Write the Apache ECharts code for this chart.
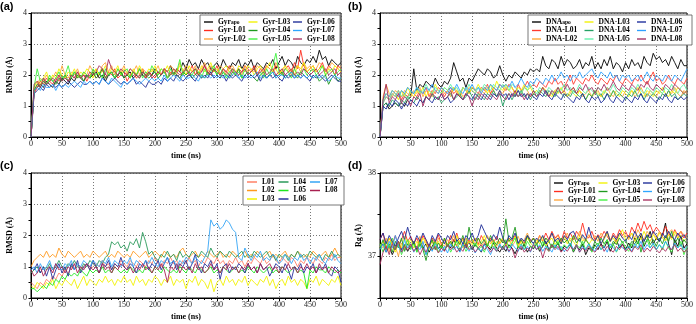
<!DOCTYPE html>
<html>
<head>
<meta charset="utf-8">
<script src="https://cdn.jsdelivr.net/npm/echarts@6/dist/echarts.min.js"></script>
<style>
  html, body { margin: 0; padding: 0; background: #fff; }
  #chart { width: 696px; height: 324px; }
</style>
</head>
<body>
<div id="chart"></div>
<script>
// sampling times (ns), one value every 5 ns from 0 to 500
const TIMES = Array.from({ length: 101 }, (_, i) => i * 5);

// ---------- (a) protein RMSD (Å) ----------
const GYR_NAMES = ['Gyr_apo', 'Gyr-L01', 'Gyr-L02', 'Gyr-L03', 'Gyr-L04', 'Gyr-L05', 'Gyr-L06', 'Gyr-L07', 'Gyr-L08'];
const gyrApo = [0,
  1.5,1.6,1.7,1.6,1.8,1.7,1.6,1.8,1.7,1.9,
  1.8,1.7,1.9,1.8,2.0,1.9,1.8,2.0,1.9,2.0,
  2.1,1.9,2.0,1.8,2.0,2.1,1.9,2.0,2.1,1.9,
  2.0,2.1,1.9,2.0,2.2,2.0,1.9,2.1,2.0,2.2,
  2.1,2.0,2.2,2.1,2.3,2.0,2.2,2.1,2.4,2.2,
  2.5,2.3,2.4,2.2,2.5,2.3,2.4,2.2,2.3,2.4,
  2.2,2.5,2.3,2.2,2.4,2.3,2.5,2.2,2.4,2.3,
  2.5,2.2,2.4,2.3,2.2,2.4,2.3,2.5,2.2,2.4,
  2.6,2.3,2.5,2.4,2.2,2.6,2.4,2.3,2.5,2.4,
  2.6,2.4,2.8,2.5,2.6,2.3,2.5,2.4,2.3,2.4];
const gyrL01 = [0,
  1.4,1.6,1.8,1.7,1.9,1.8,1.7,1.9,1.8,2.0,
  1.9,1.8,2.0,1.9,2.1,1.9,2.0,1.8,2.0,2.1,
  1.9,2.0,2.2,1.9,2.1,2.0,2.2,1.9,2.0,2.1,
  1.8,2.0,2.1,1.9,2.0,2.2,1.9,2.1,2.0,1.9,
  2.1,2.0,2.2,1.9,2.1,2.0,2.2,2.1,2.0,2.2,
  2.1,2.3,2.0,2.2,2.1,2.3,2.0,2.2,2.1,2.3,
  2.0,2.2,2.1,2.3,2.1,2.0,2.2,2.1,2.3,2.2,
  2.1,2.3,2.0,2.2,2.1,2.3,2.2,2.1,2.3,2.2,
  2.0,2.2,2.3,2.1,2.4,2.2,2.8,2.3,2.1,2.2,
  2.3,2.1,2.2,2.4,2.1,2.3,2.2,2.0,2.3,2.2];
const gyrL02 = [0,
  1.5,1.7,1.9,1.8,2.0,1.8,1.9,2.1,1.9,2.3,
  2.0,1.9,2.1,2.0,2.2,1.9,2.1,2.0,2.3,2.1,
  2.2,2.0,2.3,2.4,2.1,2.3,2.0,2.2,2.1,2.3,
  2.0,2.2,2.1,2.3,2.0,2.2,2.1,2.0,2.2,2.1,
  2.3,2.0,2.2,2.1,2.3,2.2,2.0,2.4,2.1,2.3,
  2.2,2.1,2.3,2.0,2.2,2.4,2.1,2.3,2.2,2.1,
  2.3,2.2,2.0,2.2,2.3,2.1,2.2,2.0,2.3,2.1,
  2.2,2.1,2.3,2.2,2.0,2.3,2.2,2.1,2.4,2.2,
  2.1,2.3,2.2,2.0,2.2,2.3,2.1,2.4,2.2,2.3,
  2.1,2.2,2.4,2.3,2.1,2.2,2.4,2.3,2.2,2.3];
const gyrL03 = [0,
  1.6,1.8,1.7,1.9,2.1,1.8,2.0,1.9,2.2,2.0,
  1.9,2.1,2.0,2.2,1.9,2.1,2.0,2.2,2.1,1.9,
  2.2,2.0,2.1,2.3,2.0,2.2,2.1,2.3,2.0,2.2,
  2.1,1.9,2.2,2.0,2.3,2.1,2.0,2.2,2.1,2.3,
  2.0,2.2,2.1,2.3,2.0,2.2,2.1,2.3,2.2,2.0,
  2.3,2.1,2.2,2.0,2.3,2.1,2.2,2.4,2.1,2.2,
  2.0,2.2,2.3,2.1,2.2,2.0,2.3,2.2,2.1,2.3,
  2.2,2.0,2.2,2.3,2.1,2.2,2.4,2.1,2.2,2.0,
  2.2,2.3,2.1,2.2,2.0,2.3,2.2,2.4,2.1,2.2,
  2.3,2.1,2.2,2.3,2.0,2.2,2.1,2.3,2.2,2.1];
const gyrL04 = [0,
  1.5,1.7,1.6,1.8,1.7,1.9,1.8,1.7,1.9,1.8,
  2.0,1.8,1.9,2.1,1.9,2.0,1.8,2.0,1.9,2.1,
  1.9,2.0,2.2,1.9,2.0,2.1,1.9,2.0,2.1,1.9,
  2.0,1.9,2.1,2.0,1.9,2.1,2.0,1.9,2.0,2.1,
  1.9,2.0,2.1,1.9,2.0,2.1,2.0,1.9,2.1,2.0,
  2.1,1.9,2.0,2.1,2.0,1.9,2.1,2.0,2.2,2.0,
  1.9,2.1,2.0,1.9,2.1,2.0,2.2,1.9,2.0,2.1,
  2.0,1.9,1.8,2.0,2.1,1.9,2.0,2.1,1.9,2.0,
  2.1,1.9,2.0,2.1,2.0,1.9,2.1,2.0,1.9,2.0,
  1.9,2.0,1.8,1.9,2.0,1.7,1.9,2.0,1.8,1.9];
const gyrL05 = [0,
  1.6,2.2,1.8,1.9,1.7,2.0,1.8,1.9,2.1,1.9,
  2.0,2.3,1.9,2.1,2.0,1.9,2.1,2.0,1.9,2.2,
  2.0,2.1,1.9,2.2,2.0,2.1,1.9,2.2,2.0,2.1,
  2.2,1.9,2.1,2.0,2.2,1.9,2.1,2.0,2.3,2.1,
  2.0,2.2,2.1,1.9,2.2,2.0,2.1,2.5,2.0,2.2,
  2.1,2.0,2.2,2.1,1.9,2.2,2.0,2.1,2.3,2.0,
  2.2,2.1,1.9,2.1,2.2,2.0,2.1,1.9,2.2,2.0,
  2.1,2.2,2.0,2.1,1.9,2.2,2.0,2.3,2.7,2.1,
  2.0,2.2,2.1,1.9,2.2,2.0,2.1,2.2,2.0,2.1,
  2.2,2.0,2.1,2.3,2.0,2.1,2.2,2.0,2.1,2.2];
const gyrL06 = [0,
  1.4,1.5,1.6,1.5,1.7,1.6,1.7,1.6,1.7,1.6,
  1.7,1.8,1.7,1.6,1.7,1.8,1.7,1.7,1.8,1.7,
  1.8,1.7,1.9,1.8,1.7,1.8,1.9,1.8,1.7,1.8,
  1.7,1.8,1.9,1.7,1.8,1.7,1.6,1.8,1.7,1.7,
  1.8,1.7,1.9,1.8,1.9,1.8,2.0,1.9,1.8,1.9,
  2.0,1.9,1.8,2.0,1.9,2.0,1.9,2.1,1.9,2.0,
  1.9,2.0,1.8,2.0,1.9,2.0,1.9,1.8,2.0,1.9,
  2.0,1.9,2.0,1.8,2.0,1.9,2.0,1.9,2.0,1.9,
  1.8,2.0,1.9,2.0,1.9,2.0,1.9,2.0,1.9,1.8,
  2.0,1.9,2.0,1.9,1.8,1.9,2.0,1.9,1.8,1.8];
const gyrL07 = [0,
  1.5,1.6,1.5,1.7,1.6,1.6,1.7,1.5,1.7,1.6,
  1.7,1.6,1.7,1.8,1.7,1.6,1.8,1.7,1.8,1.7,
  1.8,1.7,1.9,1.8,1.7,1.9,1.8,1.7,1.6,1.8,
  1.7,1.8,1.9,1.8,1.7,1.8,1.9,1.8,1.9,1.8,
  1.9,1.8,2.0,1.8,1.9,2.0,1.9,1.8,2.0,1.9,
  1.9,2.0,1.9,1.8,2.0,1.9,2.0,1.9,2.0,1.9,
  2.0,1.9,2.0,1.9,2.0,2.1,1.9,2.0,1.9,2.0,
  1.9,2.0,2.1,1.9,2.0,1.9,2.0,2.1,1.9,2.0,
  2.0,1.9,2.0,2.1,1.9,2.0,1.9,2.0,1.9,2.0,
  1.9,2.0,1.9,2.0,1.9,1.8,1.9,2.0,1.9,1.9];
const gyrL08 = [0,
  1.7,1.8,1.6,1.9,1.7,1.8,1.9,1.8,2.0,1.8,
  1.9,1.8,2.0,1.9,2.1,1.9,2.0,1.9,2.1,2.0,
  2.1,2.3,2.2,2.0,2.5,2.2,2.1,2.0,2.2,2.1,
  2.0,2.2,2.1,2.0,1.9,2.1,2.0,2.1,1.9,2.0,
  2.1,2.0,2.2,2.1,2.0,2.2,2.1,2.0,2.1,2.2,
  2.0,2.1,2.2,2.0,2.1,2.3,2.1,2.0,2.2,2.1,
  2.0,2.2,2.1,2.0,2.2,2.1,2.0,2.1,2.2,2.0,
  2.1,2.2,2.0,2.1,2.2,2.0,2.1,2.2,2.0,2.1,
  2.2,2.0,2.1,2.2,2.0,2.1,2.0,2.2,2.1,2.0,
  2.1,2.2,2.0,2.1,2.2,2.0,2.1,2.2,2.0,2.1];

// ---------- (b) DNA RMSD (Å) ----------
const DNA_NAMES = ['DNA_apo', 'DNA-L01', 'DNA-L02', 'DNA-L03', 'DNA-L04', 'DNA-L05', 'DNA-L06', 'DNA-L07', 'DNA-L08'];
const dnaApo = [0,
  1.0,1.1,0.9,1.0,1.1,1.0,1.1,1.0,1.2,1.3,
  2.2,1.5,1.7,1.6,1.8,1.7,1.6,1.9,1.7,1.6,
  1.8,1.7,1.9,2.4,2.1,1.8,1.9,1.6,1.9,1.8,
  2.0,2.2,2.1,2.0,2.2,2.1,1.9,2.0,2.3,2.0,
  1.8,2.0,1.9,2.1,2.0,1.9,2.1,2.0,2.2,2.1,
  2.2,2.1,2.6,2.3,2.2,2.5,2.4,2.2,2.6,2.3,
  2.5,2.4,2.2,2.3,2.5,2.2,2.4,2.3,2.6,2.2,
  2.4,2.2,2.5,2.3,2.6,2.2,2.4,2.3,2.1,2.4,
  2.2,2.5,2.3,2.4,2.2,2.6,2.4,2.3,2.7,2.5,
  2.6,2.4,2.5,2.3,2.6,2.4,2.2,2.5,2.3,2.3];
const dnaL01 = [0,
  1.1,1.3,1.2,1.4,1.3,1.5,1.2,1.4,1.3,1.5,
  1.4,1.3,1.5,1.4,1.6,1.3,1.5,1.4,1.6,1.5,
  1.3,1.5,1.6,1.4,1.5,1.3,1.6,1.5,1.4,1.6,
  1.5,1.4,1.6,1.5,1.7,1.4,1.6,1.5,1.7,1.6,
  1.5,1.7,1.6,1.4,1.7,1.5,1.6,1.8,1.6,1.7,
  1.6,1.8,1.7,1.6,1.8,1.7,1.9,1.7,1.8,1.6,
  1.8,2.0,1.7,1.9,1.8,1.7,1.9,1.8,2.0,1.8,
  1.7,1.9,1.8,1.7,1.9,1.8,2.0,1.8,1.7,1.9,
  1.8,1.7,1.9,1.8,2.0,1.8,1.7,1.9,2.1,1.8,
  1.9,1.7,1.8,2.0,1.8,1.7,1.9,1.8,1.7,1.9];
const dnaL02 = [0,
  1.3,1.7,1.4,1.3,1.5,1.4,1.3,1.5,1.4,1.3,
  1.5,1.4,1.6,1.3,1.5,1.4,1.3,1.5,1.4,1.6,
  1.4,1.5,1.3,1.6,1.4,1.5,1.3,1.4,1.6,1.5,
  1.4,1.3,1.5,1.4,1.6,1.4,1.5,1.3,1.5,1.4,
  1.6,1.5,1.4,1.3,1.5,1.4,1.6,1.5,1.3,1.4,
  1.5,1.4,1.6,1.5,1.3,1.4,1.5,1.6,1.4,1.5,
  1.3,1.4,1.6,1.4,1.5,1.3,1.4,1.5,1.3,1.4,
  1.5,1.3,1.4,1.6,1.4,1.3,1.5,1.4,1.3,1.5,
  1.4,1.5,1.3,1.4,1.6,1.4,1.3,1.5,1.4,1.3,
  1.5,1.4,1.3,1.5,1.4,1.6,1.4,1.3,1.5,1.4];
const dnaL03 = [0,
  1.2,1.4,1.3,1.5,1.4,1.2,1.5,1.3,1.6,1.4,
  1.3,1.5,1.4,1.6,1.3,1.5,1.4,1.7,1.5,1.4,
  1.6,1.5,1.4,1.6,1.5,1.3,1.6,1.5,1.4,1.6,
  1.5,1.7,1.5,1.6,1.4,1.7,1.5,1.8,1.6,1.5,
  1.7,1.5,1.6,1.4,1.6,1.5,1.7,1.5,1.6,1.4,
  1.5,1.4,1.6,1.5,1.4,1.3,1.5,1.4,1.6,1.4,
  1.3,1.5,1.4,1.3,1.5,1.4,1.2,1.4,1.3,1.5,
  1.4,1.3,1.5,1.4,1.3,1.5,1.4,1.3,1.5,1.4,
  1.3,1.5,1.4,1.6,1.4,1.3,1.5,1.4,1.3,1.5,
  1.4,1.6,1.4,1.3,1.5,1.4,1.6,1.5,1.4,1.5];
const dnaL04 = [0,
  1.0,1.1,1.0,1.2,1.1,1.0,1.2,1.1,1.3,1.2,
  1.1,1.3,1.2,1.1,1.3,1.2,1.4,1.2,1.3,1.1,
  1.2,1.3,1.4,1.2,1.3,1.4,1.2,1.3,1.5,1.3,
  1.2,1.4,1.3,1.2,1.4,1.3,1.5,1.3,1.4,1.0,
  1.3,1.4,1.2,1.4,1.3,1.5,1.3,1.4,1.2,1.4,
  1.3,1.5,1.4,1.3,1.5,1.4,1.3,1.5,1.4,1.3,
  1.4,1.3,1.5,1.4,1.3,1.4,1.2,1.4,1.3,1.5,
  1.3,1.4,1.2,1.4,1.3,1.5,1.3,1.4,1.3,1.2,
  1.4,1.3,1.5,1.3,1.4,1.2,1.4,1.3,1.4,1.3,
  1.2,1.4,1.3,1.5,1.3,1.4,1.2,1.3,1.4,1.3];
const dnaL05 = [0,
  1.1,1.3,1.2,1.4,1.3,1.5,1.3,1.4,1.2,1.5,
  1.4,1.6,1.4,1.5,1.7,1.5,1.4,1.6,1.5,1.4,
  1.6,1.5,1.7,1.5,1.6,1.4,1.6,1.5,1.7,1.5,
  1.4,1.6,1.5,1.7,1.6,1.5,1.7,1.6,1.5,1.7,
  1.6,1.5,1.7,1.6,1.5,1.4,1.6,1.5,1.7,1.5,
  1.4,1.6,1.5,1.4,1.6,1.5,1.4,1.6,1.5,1.7,
  1.5,1.6,1.4,1.5,1.7,1.5,1.4,1.6,1.5,1.4,
  1.6,1.5,1.4,1.6,1.5,1.7,1.5,1.4,1.6,1.5,
  1.4,1.6,1.5,1.7,1.5,1.4,1.6,1.5,1.4,1.6,
  1.5,1.4,1.6,1.5,1.7,1.5,1.4,1.6,1.7,1.5];
const dnaL06 = [0,
  1.0,0.9,1.1,1.0,1.2,1.1,0.9,1.1,1.0,1.2,
  1.1,1.0,1.2,1.1,1.3,1.2,1.1,1.3,1.2,1.4,
  1.2,1.3,1.1,1.2,1.4,1.3,1.2,1.4,1.3,1.2,
  1.4,1.3,1.2,1.4,1.3,1.2,1.4,1.3,1.5,1.3,
  1.4,1.2,1.4,1.3,1.5,1.3,1.4,1.2,1.4,1.3,
  1.2,1.4,1.3,1.5,1.3,1.2,1.4,1.3,1.2,1.4,
  1.3,1.2,1.1,1.3,1.2,1.4,1.2,1.1,1.3,1.2,
  1.3,1.1,1.2,1.4,1.2,1.1,1.3,1.2,1.1,1.3,
  1.2,1.1,1.3,1.2,1.4,1.2,1.1,1.3,1.2,1.1,
  1.3,1.2,1.4,1.2,1.1,1.3,1.2,1.3,1.2,1.3];
const dnaL07 = [0,
  1.2,1.4,1.3,1.5,1.4,1.3,1.5,1.4,1.6,1.5,
  1.4,1.6,1.5,1.4,1.6,1.5,1.7,1.5,1.4,1.6,
  1.5,1.4,1.6,1.5,1.7,1.5,1.4,1.6,1.5,1.7,
  1.5,1.6,1.4,1.6,1.5,1.7,1.6,1.5,1.7,1.6,
  1.7,1.6,1.8,1.6,1.7,1.9,1.7,1.6,1.8,1.7,
  1.9,1.8,1.7,1.9,1.8,2.0,1.8,1.9,2.1,1.9,
  2.0,1.8,2.0,1.9,2.1,1.9,2.0,2.1,2.2,2.0,
  1.9,2.1,2.0,1.9,2.1,1.9,2.0,1.8,2.0,1.9,
  2.0,1.8,1.9,2.0,1.8,1.9,2.1,1.9,1.8,2.0,
  1.9,1.8,2.0,1.9,1.8,2.0,1.9,1.8,2.0,2.2];
const dnaL08 = [0,
  1.2,1.7,1.1,1.3,1.2,1.4,1.1,1.3,1.2,1.0,
  1.3,1.2,1.4,1.0,1.3,1.2,1.4,1.3,1.2,1.4,
  1.2,1.3,1.5,1.2,1.4,1.3,1.2,1.4,1.3,1.0,
  1.3,1.2,1.4,1.3,1.2,1.4,1.3,1.2,1.4,1.3,
  1.2,1.4,1.3,1.5,1.3,1.4,1.2,1.4,1.3,1.5,
  1.3,1.4,1.6,1.4,1.3,1.5,1.4,1.6,1.4,1.5,
  1.7,1.5,1.6,1.4,1.6,1.5,1.7,1.5,1.6,1.4,
  1.6,1.5,1.7,1.5,1.6,1.8,1.6,1.5,1.7,1.6,
  1.5,1.7,1.6,1.5,1.7,1.6,1.8,1.6,1.5,1.7,
  1.6,1.5,1.7,1.6,1.5,1.7,1.6,1.5,1.4,1.5];

// ---------- (c) ligand RMSD (Å) ----------
const LIG_NAMES = ['L01', 'L02', 'L03', 'L04', 'L05', 'L06', 'L07', 'L08'];
const ligL01 = [0.5,
  0.4,0.3,0.5,0.4,0.6,0.5,0.7,0.6,0.8,0.7,
  0.9,0.8,1.0,0.9,1.1,0.9,1.0,1.1,0.9,1.0,
  1.1,1.0,1.2,1.0,1.1,0.9,1.1,1.0,1.2,1.1,
  1.0,1.2,1.1,1.0,1.2,1.1,1.0,1.2,1.1,1.3,
  1.1,1.0,1.2,1.1,1.3,1.1,1.2,1.0,1.2,1.1,
  1.3,1.1,1.2,1.0,1.2,1.1,1.3,1.2,1.1,1.3,
  1.1,1.2,1.0,1.2,1.1,1.3,1.1,1.2,1.0,1.2,
  1.1,1.3,1.2,1.1,1.3,1.1,1.2,1.4,1.2,1.1,
  1.3,1.2,1.1,1.3,1.2,1.0,1.2,1.1,1.3,1.2,
  1.1,1.3,1.2,1.1,1.3,1.2,1.4,1.2,1.3,1.3];
const ligL02 = [1.0,
  1.2,1.3,1.4,1.3,1.5,1.3,1.4,1.3,1.6,1.4,
  1.3,1.5,1.4,1.3,1.4,1.5,1.3,1.4,1.3,1.5,
  1.4,1.3,1.4,1.5,1.3,1.4,1.3,1.5,1.4,1.3,
  1.4,1.3,1.5,1.4,1.3,1.4,1.5,1.3,1.4,1.5,
  1.4,1.3,1.5,1.4,1.3,1.4,1.3,1.5,1.6,1.4,
  1.3,1.4,1.5,1.3,1.4,1.3,1.5,1.4,1.3,1.4,
  1.5,1.3,1.4,1.3,1.5,1.4,1.3,1.4,1.5,1.3,
  1.4,1.3,1.5,1.4,1.3,1.4,1.5,1.3,1.4,1.3,
  1.4,1.5,1.3,1.4,1.3,1.5,1.4,1.3,1.4,1.3,
  1.5,1.4,1.3,1.4,1.5,1.3,1.4,1.6,1.4,1.3];
const ligL03 = [0.4,
  0.3,0.5,0.4,0.3,0.5,0.4,0.6,0.3,0.5,0.4,
  0.6,0.5,0.4,0.6,0.3,0.5,0.7,0.4,0.6,0.5,
  0.4,0.6,0.5,0.7,0.5,0.6,0.4,0.6,0.5,0.7,
  0.5,0.6,0.4,0.7,0.5,0.6,0.4,0.6,0.5,0.7,
  0.6,0.4,0.6,0.5,0.7,0.4,0.6,0.5,0.6,0.3,
  0.6,0.5,0.7,0.4,0.6,0.5,0.3,0.6,0.2,0.5,
  0.6,0.4,0.7,0.5,0.6,0.4,0.6,0.5,0.7,0.4,
  0.6,0.5,0.4,0.6,0.5,0.7,0.4,0.6,0.3,0.5,
  0.6,0.4,0.7,0.5,0.6,0.4,0.6,0.5,0.3,0.6,
  0.5,0.7,0.4,0.6,0.5,0.4,0.6,0.5,0.7,0.4];
const ligL04 = [0.8,
  0.9,1.0,0.8,1.0,0.9,1.1,0.9,1.0,1.2,1.0,
  0.9,1.1,1.0,1.2,1.0,0.9,1.1,1.0,1.2,1.1,
  1.0,1.2,1.1,1.3,1.4,1.8,1.7,1.8,1.6,1.7,
  1.5,1.8,1.7,1.9,1.6,2.1,1.8,1.4,1.5,1.3,
  1.2,1.4,1.3,1.5,1.3,1.4,1.2,1.5,1.3,1.4,
  1.3,1.5,1.4,1.3,1.5,1.4,1.3,1.6,1.4,1.3,
  1.5,1.4,1.3,1.5,1.4,1.3,1.4,1.5,1.3,1.4,
  1.3,1.5,1.4,1.3,1.4,1.5,1.3,1.4,1.2,1.4,
  1.3,1.4,1.2,1.4,1.3,1.5,1.3,1.4,1.3,1.5,
  1.4,1.3,1.4,1.2,1.4,1.3,1.5,1.3,1.4,1.3];
const ligL05 = [0.3,
  0.3,0.2,0.3,0.4,0.3,0.5,0.4,0.6,0.5,0.7,
  0.6,0.8,0.7,0.8,0.7,0.9,0.8,0.7,0.9,0.8,
  0.9,0.8,1.0,0.8,0.9,0.8,1.0,0.9,0.8,0.9,
  0.8,1.0,0.9,0.8,0.9,0.8,1.0,0.9,0.8,1.0,
  0.9,0.8,1.0,0.9,0.8,0.9,0.8,1.0,0.9,0.8,
  1.0,0.9,0.8,1.0,0.9,0.8,0.9,1.0,0.8,0.9,
  0.8,1.0,0.9,0.8,0.9,1.0,0.8,0.9,0.8,1.0,
  0.9,0.8,1.0,0.9,0.8,0.9,1.0,0.8,0.9,0.8,
  1.0,0.9,0.8,0.9,1.0,0.8,0.9,0.8,0.3,0.9,
  0.8,1.0,0.9,0.9,0.8,1.0,0.9,0.8,0.9,0.8];
const ligL06 = [1.0,
  0.9,1.1,0.8,1.0,0.7,1.0,0.6,0.9,1.1,0.8,
  1.0,0.7,1.1,0.9,1.2,0.8,1.0,1.1,0.9,1.2,
  1.0,0.8,1.1,1.0,1.2,0.9,1.1,1.0,1.3,1.0,
  0.9,1.1,1.0,0.8,1.1,1.0,1.2,0.9,1.1,1.0,
  1.2,0.9,1.1,1.3,1.0,1.2,0.9,1.1,1.0,1.2,
  0.9,1.1,1.4,1.0,0.8,1.1,1.0,1.2,0.9,1.1,
  0.6,1.0,1.1,0.8,1.0,0.9,1.1,1.0,0.8,1.1,
  0.9,1.0,0.8,1.1,0.9,1.0,0.7,0.9,1.1,1.0,
  0.8,1.1,0.9,0.6,1.0,0.9,1.1,0.8,1.0,0.9,
  1.1,0.8,1.0,0.9,1.1,0.8,0.7,1.0,0.9,0.5];
const ligL07 = [0.9,
  1.0,0.8,1.1,0.9,1.0,1.2,0.9,1.1,1.0,0.9,
  1.1,1.0,1.2,0.9,1.1,1.0,1.2,1.1,1.0,1.2,
  1.1,1.0,1.2,1.1,1.3,1.0,1.2,1.1,1.0,1.2,
  1.1,1.3,1.0,1.2,1.1,1.0,1.2,1.1,1.3,1.1,
  1.0,1.2,1.1,1.3,1.1,1.2,1.0,1.2,1.1,1.3,
  1.2,1.1,1.3,1.2,1.1,1.3,1.5,2.5,2.3,2.4,
  2.2,2.3,2.5,2.4,2.2,2.1,1.3,1.2,1.6,1.4,
  1.2,1.4,1.3,1.5,1.2,1.3,1.2,1.4,1.3,1.1,
  1.2,1.4,1.3,1.1,1.3,1.2,1.4,1.2,1.3,1.1,
  1.3,1.2,1.4,1.2,1.1,1.3,1.2,1.4,1.2,1.1];
const ligL08 = [0.9,
  0.7,0.8,1.0,0.7,0.9,1.0,0.8,1.1,0.9,1.0,
  0.8,1.0,0.9,1.1,0.8,1.0,0.9,1.1,1.0,0.9,
  1.0,0.8,1.1,0.9,1.0,0.8,1.0,0.9,1.1,1.0,
  0.9,1.0,0.8,1.0,0.9,1.1,0.9,1.0,0.8,1.0,
  0.9,1.1,0.9,0.5,1.0,0.9,1.1,0.8,1.0,0.9,
  1.0,0.8,1.1,0.9,1.0,0.8,0.9,1.1,0.9,1.0,
  0.8,1.0,0.9,1.1,0.9,1.0,0.8,1.0,0.9,1.1,
  0.9,1.0,0.8,1.1,0.9,1.0,1.1,0.9,1.0,0.8,
  1.0,0.9,1.1,0.9,1.0,0.8,1.0,0.9,1.1,0.9,
  1.0,0.8,1.1,0.9,1.0,0.8,1.0,0.9,0.8,0.9];

// ---------- (d) radius of gyration (Å) ----------
const rgApo = [37.10,
  37.15,37.05,37.12,37.02,37.10,37.18,37.08,37.14,37.06,37.12,
  37.16,37.08,37.20,37.10,37.15,37.05,37.12,37.18,37.09,37.14,
  37.07,37.15,37.10,37.20,37.12,37.06,37.16,37.10,37.18,37.08,
  37.14,37.10,37.05,37.15,37.12,37.08,37.16,37.10,37.05,37.12,
  37.06,37.14,37.10,37.03,37.12,37.08,37.15,37.05,37.12,37.09,
  37.15,37.06,37.12,37.18,37.08,37.14,37.10,37.16,37.06,37.12,
  37.10,37.15,37.05,37.12,37.08,37.15,37.02,37.10,37.06,37.14,
  37.08,37.15,37.10,37.18,37.06,37.14,37.20,37.10,37.15,37.08,
  37.16,37.10,37.22,37.15,37.25,37.12,37.20,37.30,37.15,37.22,
  37.18,37.25,37.40,37.15,37.02,37.20,37.12,37.25,37.10,37.15];
const rgL01 = [37.20,
  37.28,37.10,37.22,37.15,37.25,37.12,37.20,37.30,37.18,37.24,
  37.15,37.22,37.12,37.25,37.18,37.10,37.22,37.16,37.26,37.14,
  37.20,37.12,37.25,37.18,37.28,37.15,37.22,37.12,37.20,37.16,
  37.22,37.14,37.25,37.18,37.12,37.22,37.16,37.24,37.15,37.20,
  37.14,37.22,37.18,37.25,37.12,37.20,37.16,37.24,37.18,37.22,
  37.15,37.25,37.18,37.28,37.20,37.30,37.22,37.26,37.18,37.30,
  37.22,37.28,37.20,37.30,37.24,37.40,37.25,37.22,37.30,37.20,
  37.26,37.22,37.30,37.24,37.18,37.28,37.22,37.32,37.25,37.30,
  37.22,37.35,37.28,37.40,37.30,37.42,37.32,37.38,37.28,37.35,
  37.30,37.25,37.36,37.28,37.22,37.32,37.25,37.30,37.22,37.28];
const rgL02 = [37.15,
  37.10,37.22,37.05,37.18,37.12,37.00,37.16,37.08,37.20,37.12,
  37.18,37.10,37.24,37.14,37.20,37.12,37.18,37.08,37.22,37.15,
  37.12,37.20,37.15,37.25,37.12,37.18,37.10,37.22,37.16,37.20,
  37.15,37.22,37.12,37.18,37.25,37.15,37.20,37.12,37.18,37.22,
  37.16,37.20,37.12,37.18,37.24,37.15,37.20,37.28,37.18,37.22,
  37.15,37.25,37.18,37.22,37.16,37.28,37.20,37.25,37.15,37.22,
  37.28,37.18,37.25,37.20,37.30,37.22,37.18,37.26,37.20,37.25,
  37.18,37.28,37.22,37.30,37.20,37.25,37.18,37.28,37.22,37.26,
  37.20,37.28,37.22,37.32,37.25,37.20,37.30,37.24,37.28,37.22,
  37.30,37.24,37.20,37.28,37.32,37.25,37.22,37.30,37.26,37.22];
const rgL03 = [37.12,
  37.18,37.08,37.22,37.12,37.05,37.18,37.10,37.24,37.14,37.20,
  37.10,37.18,37.12,37.22,37.15,37.08,37.20,37.12,37.18,37.10,
  37.22,37.14,37.18,37.10,37.25,37.15,37.20,37.12,37.18,37.14,
  37.22,37.12,37.18,37.25,37.14,37.20,37.10,37.18,37.15,37.22,
  37.12,37.20,37.15,37.24,37.12,37.18,37.14,37.22,37.16,37.12,
  37.20,37.15,37.24,37.12,37.18,37.22,37.14,37.20,37.16,37.24,
  37.15,37.22,37.18,37.12,37.25,37.18,37.22,37.14,37.20,37.18,
  37.24,37.15,37.20,37.28,37.18,37.22,37.15,37.25,37.32,37.20,
  37.22,37.28,37.18,37.25,37.20,37.30,37.22,37.18,37.26,37.20,
  37.28,37.22,37.18,37.26,37.20,37.30,37.22,37.25,37.18,37.22];
const rgL04 = [37.10,
  37.20,37.08,37.15,37.05,37.18,37.10,37.22,37.06,37.15,37.10,
  37.18,37.05,37.15,37.08,36.95,37.12,37.20,37.08,37.16,37.10,
  37.22,37.12,37.18,37.10,37.20,37.14,37.25,37.12,37.35,37.18,
  37.12,37.22,37.15,37.20,37.12,37.25,37.18,37.14,37.22,37.16,
  37.45,37.18,37.22,37.35,37.15,37.20,37.12,37.25,37.16,37.22,
  37.14,37.20,37.12,37.22,37.18,37.10,37.20,37.14,37.22,37.16,
  37.20,37.12,37.25,37.16,37.22,37.12,37.20,37.15,37.08,37.18,
  37.12,37.22,37.15,37.20,37.10,37.18,37.14,37.22,37.16,37.20,
  37.10,37.18,37.15,37.22,37.05,37.18,37.25,37.14,37.20,37.12,
  37.22,37.15,37.25,37.18,37.30,37.15,37.22,37.12,37.20,37.15];
const rgL05 = [37.15,
  37.05,37.18,37.10,37.22,37.08,37.15,37.02,37.12,37.20,37.08,
  37.15,37.05,37.18,37.10,37.02,37.14,37.08,37.18,37.05,37.12,
  37.08,37.15,37.05,37.12,37.18,37.08,37.14,37.06,37.12,37.10,
  37.16,37.08,37.12,37.05,37.15,37.10,37.18,37.06,37.14,37.08,
  37.20,37.10,37.16,37.22,37.10,37.15,37.08,37.18,37.12,37.10,
  37.15,37.08,37.18,37.12,37.06,37.15,37.10,37.18,37.08,37.14,
  37.10,37.16,37.06,37.14,37.10,37.18,37.08,37.15,37.05,37.12,
  37.16,37.08,37.14,37.20,37.10,37.15,37.05,37.12,37.18,37.10,
  37.06,37.15,37.10,37.18,37.08,37.14,37.20,37.10,37.15,37.08,
  37.14,37.08,37.18,37.10,37.05,37.15,37.10,37.18,37.02,37.12];
const rgL06 = [37.20,
  37.28,37.15,37.25,37.18,37.12,37.22,37.30,37.20,37.35,37.22,
  37.15,37.25,37.18,37.28,37.20,37.12,37.25,37.18,37.28,37.22,
  37.15,37.25,37.20,37.30,37.18,37.22,37.15,37.25,37.20,37.28,
  37.18,37.25,37.38,37.30,37.22,37.18,37.26,37.20,37.35,37.22,
  37.15,37.25,37.20,37.28,37.16,37.22,37.18,37.25,37.20,37.15,
  37.22,37.18,37.25,37.15,37.20,37.28,37.18,37.22,37.15,37.25,
  37.20,37.28,37.30,37.22,37.18,37.26,37.20,37.35,37.22,37.18,
  37.25,37.15,37.22,37.30,37.18,37.25,37.20,37.28,37.22,37.18,
  37.25,37.20,37.30,37.22,37.28,37.18,37.26,37.22,37.30,37.25,
  37.18,37.28,37.22,37.30,37.24,37.20,37.28,37.22,37.26,37.20];
const rgL07 = [37.08,
  37.15,37.05,37.18,37.10,37.25,37.12,37.05,37.20,37.10,37.15,
  37.05,37.12,37.08,37.18,37.02,37.12,37.06,37.15,37.10,37.05,
  37.12,37.04,37.15,37.08,37.12,37.05,37.15,37.10,37.06,37.12,
  37.04,37.10,37.06,37.14,37.08,37.02,37.12,37.06,37.15,37.08,
  37.12,37.05,37.15,37.10,37.06,37.14,37.08,37.12,37.05,37.15,
  37.08,37.14,37.06,37.12,37.10,37.05,37.14,37.08,37.12,37.06,
  37.10,37.16,37.08,37.14,37.05,37.12,37.08,37.15,37.10,37.06,
  37.14,37.08,37.12,37.05,37.15,37.10,37.06,37.14,37.10,37.08,
  37.12,37.06,37.15,37.10,37.18,37.08,37.14,37.10,37.16,37.08,
  37.14,37.10,37.18,37.12,37.08,37.16,37.10,37.14,37.08,37.12];
const rgL08 = [36.90,
  37.05,37.12,37.02,37.15,37.08,37.18,37.05,37.12,37.08,37.15,
  37.06,37.12,37.02,37.10,37.05,37.14,37.08,37.12,37.04,37.10,
  37.06,37.14,37.08,37.12,37.05,37.10,37.06,37.15,37.08,37.12,
  37.05,37.10,37.14,37.08,37.12,37.05,37.10,37.06,37.12,37.08,
  37.14,37.06,37.10,36.98,37.08,37.12,37.05,37.10,37.06,37.14,
  37.08,37.12,36.98,37.10,37.06,37.14,37.08,37.12,37.05,37.10,
  37.06,37.12,37.08,37.14,37.05,37.10,37.06,37.12,37.08,37.05,
  37.10,37.14,37.06,37.12,37.08,37.05,37.12,37.08,37.14,37.06,
  37.10,37.05,37.12,37.08,37.14,37.05,37.10,37.06,37.12,37.08,
  37.04,37.10,37.06,37.12,37.08,37.14,37.06,37.10,37.05,37.08];

const GYR_COLORS = ['#000000', '#ff2d1f', '#ffa53a', '#f2f200', '#1f9a1f', '#3cf03c', '#1c2a96', '#2ea6ff', '#a83060'];
const DNA_COLORS = ['#000000', '#ff3b2f', '#ffa733', '#f2f200', '#26a065', '#60f0a8', '#1a2a9a', '#2ea0ff', '#a02d60'];
const LIG_COLORS = ['#ff8066', '#ff9a1f', '#f2f200', '#2a9a5a', '#1ee61e', '#28309a', '#35a5f5', '#a82050'];

const SERIF = "'Liberation Serif', 'DejaVu Serif', serif";

const panels = [
  { label: '(a)', names: GYR_NAMES, colors: GYR_COLORS, yName: 'RMSD (Å)', yMin: 0, yMax: 4,
    values: [gyrApo, gyrL01, gyrL02, gyrL03, gyrL04, gyrL05, gyrL06, gyrL07, gyrL08],
    grid: { left: 31, top: 13, width: 310, height: 124 },
    legend: { left: 200, top: 15, textW: 30, itemW: 9 }, labelPos: [0, 1] },
  { label: '(b)', names: DNA_NAMES, colors: DNA_COLORS, yName: 'RMSD (Å)', yMin: 0, yMax: 4,
    values: [dnaApo, dnaL01, dnaL02, dnaL03, dnaL04, dnaL05, dnaL06, dnaL07, dnaL08],
    grid: { left: 380, top: 13, width: 310, height: 124 },
    legend: { left: 528, top: 15, textW: 38, itemW: 9 }, labelPos: [348, 1] },
  { label: '(c)', names: LIG_NAMES, colors: LIG_COLORS, yName: 'RMSD (Å)', yMin: 0, yMax: 4,
    values: [ligL01, ligL02, ligL03, ligL04, ligL05, ligL06, ligL07, ligL08],
    grid: { left: 31, top: 173, width: 310, height: 125 },
    legend: { left: 243, top: 176, textW: 16, itemW: 10 }, labelPos: [0, 160] },
  { label: '(d)', names: GYR_NAMES, colors: GYR_COLORS, yName: 'Rg (Å)', yMin: 36.5, yMax: 38,
    values: [rgApo, rgL01, rgL02, rgL03, rgL04, rgL05, rgL06, rgL07, rgL08],
    grid: { left: 380, top: 173, width: 310, height: 125 },
    legend: { left: 550, top: 176, textW: 30, itemW: 9 }, labelPos: [348, 160] }
];

function legendText(name) {
  const parts = name.split('_');
  return parts.length > 1 ? parts[0] + '{s|' + parts[1] + '}' : name;
}

const option = {
  animation: false,
  backgroundColor: '#ffffff',
  title: [], grid: [], xAxis: [], yAxis: [], legend: [], series: []
};

panels.forEach(function (p, gi) {
  option.title.push({
    text: p.label, left: p.labelPos[0], top: p.labelPos[1], padding: 0,
    textStyle: { fontFamily: "'Liberation Sans', Arial, sans-serif", fontWeight: 'bold', fontSize: 11, color: '#000' }
  });
  option.grid.push(Object.assign({ show: true, borderColor: '#000', borderWidth: 1, backgroundColor: 'transparent' }, p.grid));
  option.xAxis.push({
    type: 'value', gridIndex: gi, min: 0, max: 500, interval: 50,
    name: 'time (ns)', nameLocation: 'middle', nameGap: 15,
    nameTextStyle: { fontFamily: SERIF, fontWeight: 'bold', fontSize: 8, color: '#000' },
    axisLine: { show: true, lineStyle: { color: '#000', width: 1 } },
    axisTick: { show: true, inside: false, length: 3, lineStyle: { color: '#000' } },
    minorTick: { show: true, splitNumber: 5, length: 2, lineStyle: { color: '#000' } },
    axisLabel: { fontFamily: SERIF, fontSize: 8, color: '#222', margin: 3 },
    splitLine: { show: true, lineStyle: { color: '#555', type: [1, 2], width: 0.8 } }
  });
  const isRg = p.yMin !== 0;
  option.yAxis.push({
    type: 'value', gridIndex: gi, min: p.yMin, max: p.yMax, interval: 0.5,
    name: p.yName, nameLocation: 'middle', nameGap: 17,
    nameTextStyle: { fontFamily: SERIF, fontWeight: 'bold', fontSize: 8, color: '#000' },
    axisLine: { show: true, lineStyle: { color: '#000', width: 1 } },
    axisTick: { show: true, inside: false, length: 2.5, lineStyle: { color: '#000' } },
    axisLabel: {
      fontFamily: SERIF, fontSize: 8, color: '#222', margin: 4,
      formatter: function (v) { return Math.abs(v - Math.round(v)) < 1e-6 ? String(Math.round(v)) : ''; }
    },
    splitLine: {
      show: true,
      lineStyle: { color: isRg ? ['rgba(0,0,0,0)', '#555'] : ['#555', 'rgba(0,0,0,0)'], type: [1, 2], width: 0.8 }
    }
  });
  option.legend.push({
    data: p.names, orient: 'vertical', left: p.legend.left, top: p.legend.top, height: 26,
    padding: [2, 3, 2, 4], itemGap: 0.5, itemWidth: p.legend.itemW, itemHeight: 8,
    borderColor: '#555', borderWidth: 0.8, backgroundColor: '#fff',
    selectedMode: false, icon: 'path://M0,0 L10,0 L10,1.5 L0,1.5 Z',
    formatter: legendText,
    textStyle: {
      fontFamily: SERIF, fontWeight: 'bold', fontSize: 7.5, lineHeight: 8, color: '#000',
      width: p.legend.textW, overflow: 'none',
      rich: { s: { fontFamily: SERIF, fontWeight: 'bold', fontSize: 5.5, lineHeight: 8, verticalAlign: 'bottom', padding: [3, 0, 0, 0], color: '#000' } }
    }
  });
  p.values.forEach(function (vals, si) {
    option.series.push({
      type: 'line', name: p.names[si], xAxisIndex: gi, yAxisIndex: gi,
      data: vals.map(function (v, i) { return [TIMES[i], v]; }),
      symbol: 'none', color: p.colors[si],
      lineStyle: { width: 0.9, color: p.colors[si] },
      silent: true, z: 2
    });
  });
});

const chart = echarts.init(document.getElementById('chart'), null, { renderer: 'canvas' });
chart.setOption(option);
</script>
</body>
</html>
